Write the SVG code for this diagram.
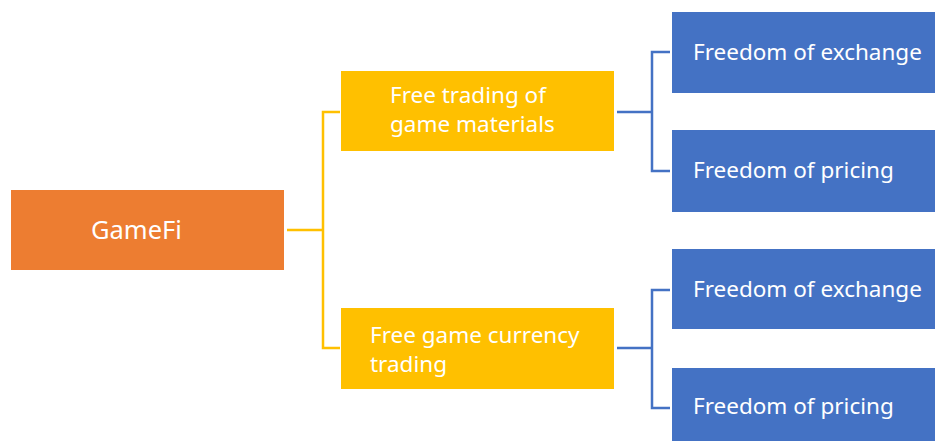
<svg xmlns="http://www.w3.org/2000/svg" width="935" height="441" viewBox="0 0 935 441">
<style>
.t{font-family:"Noto Sans","Open Sans",sans-serif;fill:#fff;font-size:22.5px}
.orange{fill:#ED7D31}.yellow{fill:#FFC000}.blue{fill:#4472C4}
.cy{fill:none;stroke:#FFC000;stroke-width:2.5}
.cb{fill:none;stroke:#4472C4;stroke-width:2.5}
</style>
<rect width="935" height="441" fill="#fff"/>
<g id="connectors">
<path class="cy" d="M287 230H323M340 112H323V348H340"/>
<path class="cb" d="M617 112H652M670 52H652V171H670"/>
<path class="cb" d="M617 348H652M670 290H652V408H670"/>
</g>
<g id="gamefi"><rect class="orange" x="11" y="190" width="273" height="80"/><text class="t" x="91" y="239" style="font-size:25.5px">GameFi</text></g>
<g id="materials"><rect class="yellow" x="341" y="71" width="273" height="80"/><text class="t" x="390" y="103">Free trading of</text><text class="t" x="390" y="132">game materials</text></g>
<g id="currency"><rect class="yellow" x="341" y="308" width="273" height="81"/><text class="t" x="370" y="343">Free game currency</text><text class="t" x="370" y="372">trading</text></g>
<g id="exchange1"><rect class="blue" x="672" y="12" width="263" height="81"/><text class="t" x="693" y="60">Freedom of exchange</text></g>
<g id="pricing1"><rect class="blue" x="672" y="130" width="263" height="82"/><text class="t" x="693" y="178">Freedom of pricing</text></g>
<g id="exchange2"><rect class="blue" x="672" y="249" width="263" height="80"/><text class="t" x="693" y="297">Freedom of exchange</text></g>
<g id="pricing2"><rect class="blue" x="672" y="368" width="263" height="73"/><text class="t" x="693" y="414">Freedom of pricing</text></g>
</svg>
